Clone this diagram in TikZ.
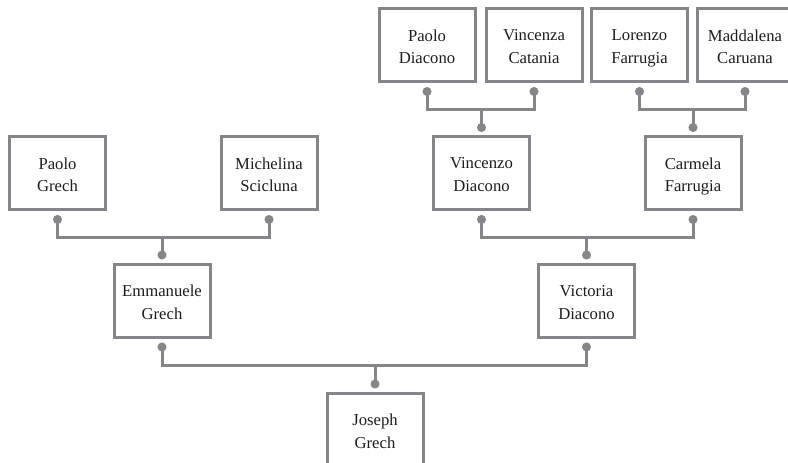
\documentclass[tikz,border=0pt]{standalone}
\usepackage{fontspec}
\setmainfont{Liberation Serif}
\usetikzlibrary{calc}
\definecolor{lg}{RGB}{134,134,138}
\definecolor{tx}{RGB}{30,28,30}
\newcommand\famlink[3]{%
  \path ($(#1.south)+(0,26)$) coordinate (#3bar);
  \draw[conn] ($(#1.south)+(0,8)$) -- (#3bar) -| ($(#2.south)+(0,8)$);
  \draw[conn] ($(#3.north)+(0,-8)$) -- (#3bar -| #3.north);
  \fill[lg] ($(#1.south)+(0,8)$) circle (3.4pt);
  \fill[lg] ($(#2.south)+(0,8)$) circle (3.4pt);
  \fill[lg] ($(#3.north)+(0,-8)$) circle (3.4pt);
}
\newcommand\person[5]{%
  \node[personbox] (#1) at (#2,#3) {};
  \node[persontext] (#1t) at ($(#1.center)+(0,3)$) {#4\\#5};
}
\begin{document}
\begin{tikzpicture}[x=0.75pt,y=-0.75pt,
  personbox/.style={draw=lg,line width=2.25pt,minimum width=72pt,minimum height=54.75pt,inner sep=0pt},
  persontext/.style={align=center,font=\fontsize{12.5}{17}\selectfont,text=tx,inner sep=0pt,
    execute at end node={\vphantom{g}}},
  conn/.style={draw=lg,line width=2.25pt}]
\useasboundingbox (0,0) rectangle (788,463);
\clip (0,0) rectangle (788,463);
% row 1
\person{pd}{427}{45.5}{Paolo}{Diacono}
\person{vc}{534}{45.5}{Vincenza}{Catania}
\person{lf}{639.5}{45.5}{Lorenzo}{Farrugia}
\person{mc}{745}{45.5}{Maddalena}{Caruana}
% row 2
\person{pg}{57.5}{173.5}{Paolo}{Grech}
\person{ms}{269}{173.5}{Michelina}{Scicluna}
\person{vd}{481.5}{173.5}{Vincenzo}{Diacono}
\person{cf}{693}{173.5}{Carmela}{Farrugia}
% row 3
\person{eg}{162}{301}{Emmanuele}{Grech}
\person{vid}{586.5}{301}{Victoria}{Diacono}
% row 4
\person{jg}{375}{430}{Joseph}{Grech}
% links
\famlink{pd}{vc}{vd}
\famlink{lf}{mc}{cf}
\famlink{pg}{ms}{eg}
\famlink{vd}{cf}{vid}
\famlink{eg}{vid}{jg}
\end{tikzpicture}
\end{document}
